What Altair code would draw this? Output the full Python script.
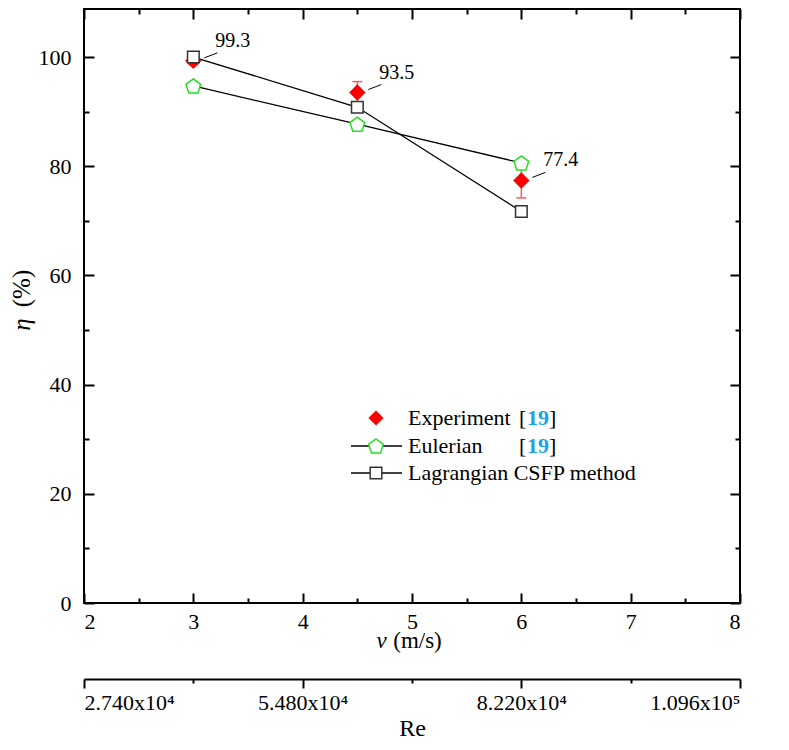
import altair as alt
import pandas as pd

# ---------------- data ----------------
v_speed = [3.0, 4.5, 6.0]
exp_eta = [99.3, 93.5, 77.4]
exp_err = [0.7, 2.0, 3.2]
exp_text = ["99.3", "93.5", "77.4"]
eul_eta = [94.7, 87.7, 80.6]
lag_eta = [100.0, 90.8, 71.7]

x_major = [2, 3, 4, 5, 6, 7, 8]
x_minor = [2.5, 3.5, 4.5, 5.5, 6.5, 7.5]
y_major = [0, 20, 40, 60, 80, 100]
y_minor = [10, 30, 50, 70, 90]
re_major = [27400, 54800, 82200, 109600]
re_minor = [41100, 68500, 95900]
re_text = ["2.740x10⁴", "5.480x10⁴", "8.220x10⁴", "1.096x10⁵"]

legend_names = ["Experiment", "Eulerian", "Lagrangian CSFP method"]
legend_refs = ["19", "19", ""]

# ---------------- style ----------------
W, H = 656, 594
SERIF = "Liberation Serif"
RED = "#ff0000"
ERR = "#ff5a5a"
GREEN = "#22e022"
BLUE = "#1aa3e6"
SQ = "#333333"
PENT = "M0,-0.905 L0.951,-0.214 L0.588,0.904 L-0.588,0.904 L-0.951,-0.214 Z"


def xscale():
    return alt.Scale(domain=[2, 8], nice=False, zero=False)


def yscale():
    return alt.Scale(domain=[0, 108.8], nice=False, zero=False)


def rescale():
    return alt.Scale(domain=[27400, 109600], nice=False, zero=False)


def X(field="v"):
    return alt.X(f"{field}:Q", scale=xscale(), axis=None)


def Y(field="eta"):
    return alt.Y(f"{field}:Q", scale=yscale(), axis=None)


exp_df = pd.DataFrame({
    "v": v_speed,
    "eta": exp_eta,
    "lo": [e - d for e, d in zip(exp_eta, exp_err)],
    "hi": [e + d for e, d in zip(exp_eta, exp_err)],
    "label": exp_text,
})
eul_df = pd.DataFrame({"v": v_speed, "eta": eul_eta})
lag_df = pd.DataFrame({"v": v_speed, "eta": lag_eta})

layers = []

# ---------------- data marks ----------------
layers.append(alt.Chart(lag_df).mark_line(color="black", strokeWidth=1.3).encode(x=X(), y=Y()))
layers.append(alt.Chart(eul_df).mark_line(color="black", strokeWidth=1.3).encode(x=X(), y=Y()))
layers.append(alt.Chart(exp_df).mark_rule(color=ERR, strokeWidth=1.5).encode(
    x=X(), y=Y("lo"), y2=alt.Y2("hi:Q")))
layers.append(alt.Chart(exp_df).mark_tick(orient="horizontal", size=10, thickness=1.5, color=ERR, opacity=1).encode(
    x=X(), y=Y("lo")))
layers.append(alt.Chart(exp_df).mark_tick(orient="horizontal", size=10, thickness=1.5, color=ERR, opacity=1).encode(
    x=X(), y=Y("hi")))
layers.append(alt.Chart(exp_df).mark_point(shape="diamond", filled=True, color=RED, size=270, opacity=1).encode(
    x=X(), y=Y()))
layers.append(alt.Chart(lag_df).mark_point(shape="square", filled=True, fill="white", stroke=SQ,
                                           strokeWidth=1.5, size=135, opacity=1).encode(x=X(), y=Y()))
layers.append(alt.Chart(eul_df).mark_point(shape=PENT, filled=True, fill="white", stroke=GREEN,
                                           strokeWidth=1.5, size=240, opacity=1).encode(x=X(), y=Y()))
# annotation leaders and values
layers.append(alt.Chart(exp_df).mark_rule(color="black", strokeWidth=1, xOffset=11, yOffset=-3,
                                          x2Offset=24, y2Offset=-8).encode(
    x=X(), y=Y(), x2=alt.X2("v:Q"), y2=alt.Y2("eta:Q")))
layers.append(alt.Chart(exp_df).mark_text(align="left", baseline="middle", dx=22, dy=-20,
                                          font=SERIF, fontSize=20, color="black").encode(
    x=X(), y=Y(), text="label:N"))


# ---------------- axes ----------------
def x_axis(values, scale, title=None, **kw):
    df = pd.DataFrame({"t": values})
    base = dict(grid=False, labels=False, ticks=False, domain=False, values=values)
    base.update(kw)
    if title is None:
        enc = alt.X("t:Q", scale=scale, title=None, axis=alt.Axis(**base))
    else:
        enc = alt.X("t:Q", scale=scale, title=title, axis=alt.Axis(**base))
    return alt.Chart(df).mark_point(opacity=0).encode(x=enc)


def y_axis(values, title=None, **kw):
    df = pd.DataFrame({"t": values})
    base = dict(grid=False, labels=False, ticks=False, domain=False, values=values)
    base.update(kw)
    if title is None:
        enc = alt.Y("t:Q", scale=yscale(), title=None, axis=alt.Axis(**base))
    else:
        enc = alt.Y("t:Q", scale=yscale(), title=title, axis=alt.Axis(**base))
    return alt.Chart(df).mark_point(opacity=0).encode(y=enc)


tick_kw = dict(ticks=True, tickWidth=2, tickColor="black")
# inward ticks, bottom / top
layers.append(x_axis(x_major, xscale(), orient="top", offset=-H, tickSize=10, **tick_kw))
layers.append(x_axis(x_minor, xscale(), orient="top", offset=-H, tickSize=5, **tick_kw))
layers.append(x_axis(x_major, xscale(), orient="bottom", offset=-H, tickSize=10, **tick_kw))
layers.append(x_axis(x_minor, xscale(), orient="bottom", offset=-H, tickSize=5, **tick_kw))
# inward ticks, left / right
layers.append(y_axis(y_major, orient="right", offset=-W, tickSize=10, **tick_kw))
layers.append(y_axis(y_minor, orient="right", offset=-W, tickSize=5, **tick_kw))
layers.append(y_axis(y_major, orient="left", offset=-W, tickSize=10, **tick_kw))
layers.append(y_axis(y_minor, orient="left", offset=-W, tickSize=5, **tick_kw))

# labels
layers.append(x_axis(x_major, xscale(), orient="bottom", labels=True, labelFont=SERIF, labelFontSize=22,
                     labelColor="black", labelPadding=8, tickSize=0))
layers.append(y_axis(y_major, orient="left", labels=True, labelFont=SERIF, labelFontSize=22,
                     labelColor="black", labelPadding=13, tickSize=0))

title_kw = dict(titleFont=SERIF, titleFontWeight="normal", titleColor="black",
                titleAlign="center", titleBaseline="middle")
# x title: "v (m/s)"
layers.append(x_axis(x_major, xscale(), title="v", orient="bottom", titleX=297, titleY=37,
                     titleFontSize=23, titleFontStyle="italic", **title_kw))
layers.append(x_axis(x_major, xscale(), title="(m/s)", orient="bottom", titleX=333, titleY=37,
                     titleFontSize=23, **title_kw))
# y title: "η (%)"
layers.append(y_axis(y_major, title="η", orient="left", titleX=-63, titleY=315, titleAngle=270,
                     titleFontSize=25, titleFontStyle="italic", **title_kw))
layers.append(y_axis(y_major, title="(%)", orient="left", titleX=-63, titleY=279, titleAngle=270,
                     titleFontSize=25, **title_kw))

# secondary Re axis
re_expr = " : ".join(f"datum.value == {v} ? '{t}'" for v, t in zip(re_major, re_text)) + " : ''"
layers.append(x_axis(re_major, rescale(), title="Re", orient="bottom", offset=76,
                     domain=True, domainColor="black", domainWidth=2,
                     ticks=True, tickSize=9, tickWidth=2, tickColor="black",
                     labels=True, labelExpr=re_expr, labelFont=SERIF, labelFontSize=22,
                     labelColor="black", labelPadding=4, labelOverlap=False,
                     titleX=W / 2, titleY=49, titleFontSize=24, **title_kw))
layers.append(x_axis(re_minor, rescale(), orient="bottom", offset=76,
                     ticks=True, tickSize=4, tickWidth=2, tickColor="black"))

# ---------------- legend ----------------
row_y = [409, 437, 464]
sym_x, line_x0, line_x1, text_x = 292, 267, 318, 324
one = pd.DataFrame({"k": [0]})

for i, name in enumerate(legend_names):
    yv = row_y[i]
    if i > 0:
        layers.append(alt.Chart(one).mark_rule(color="black", strokeWidth=1.3).encode(
            x=alt.value(line_x0), x2=alt.value(line_x1), y=alt.value(yv)))
    if i == 0:
        layers.append(alt.Chart(one).mark_point(shape="diamond", filled=True, color=RED, size=230,
                                                opacity=1).encode(x=alt.value(sym_x), y=alt.value(yv)))
    elif i == 1:
        layers.append(alt.Chart(one).mark_point(shape=PENT, filled=True, fill="white", stroke=GREEN,
                                                strokeWidth=1.5, size=240, opacity=1).encode(
            x=alt.value(sym_x), y=alt.value(yv)))
    else:
        layers.append(alt.Chart(one).mark_point(shape="square", filled=True, fill="white", stroke=SQ,
                                                strokeWidth=1.5, size=135, opacity=1).encode(
            x=alt.value(sym_x), y=alt.value(yv)))
    ldf = pd.DataFrame({"name": [name], "ref": [legend_refs[i]]})
    layers.append(alt.Chart(ldf).mark_text(align="left", baseline="middle", font=SERIF, fontSize=22,
                                           color="black").encode(
        x=alt.value(text_x), y=alt.value(yv), text="name:N"))
    if legend_refs[i]:
        layers.append(alt.Chart(ldf).mark_text(align="left", baseline="middle", font=SERIF, fontSize=22,
                                               color="black", text="[").encode(
            x=alt.value(435), y=alt.value(yv)))
        layers.append(alt.Chart(ldf).mark_text(align="left", baseline="middle", font=SERIF, fontSize=22,
                                               fontWeight="bold", color=BLUE).encode(
            x=alt.value(443), y=alt.value(yv), text="ref:N"))
        layers.append(alt.Chart(ldf).mark_text(align="left", baseline="middle", font=SERIF, fontSize=22,
                                               color="black", text="]").encode(
            x=alt.value(465), y=alt.value(yv)))

chart = (
    alt.layer(*layers)
    .resolve_scale(x="independent")
    .resolve_axis(x="independent", y="independent")
    .properties(
        width=W,
        height=H,
        padding={"left": 76, "top": 1, "right": 41, "bottom": 139},
        autosize=alt.AutoSizeParams(type="none"),
        background="white",
    )
    .configure_view(stroke="black", strokeWidth=2)
)

chart.save("out.html", embed_options={"renderer": "svg", "actions": False})
